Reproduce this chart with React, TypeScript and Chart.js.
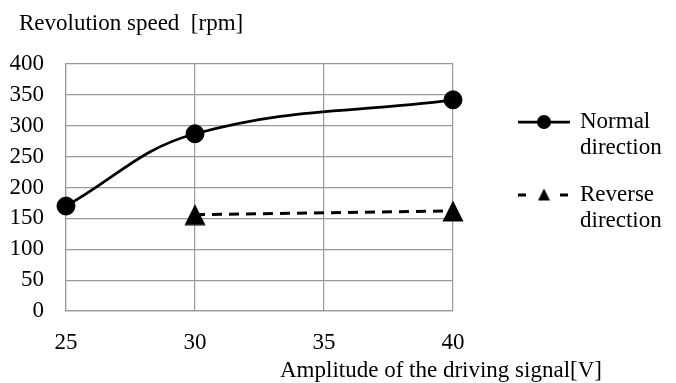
import React, { useEffect, useRef } from 'react';
import { Chart, registerables } from 'chart.js';

Chart.register(...registerables);

// ---- data ----
const xTickValues = [25, 30, 35, 40];
const normalX = [25, 30, 40];
const normalY = [170, 287, 342];
const reverseX = [30, 40];
const reverseY = [156, 162];
const yMin = 0;
const yMax = 400;
const yStep = 50;

const yTitle = 'Revolution speed  [rpm]';
const xTitle = 'Amplitude of the driving signal[V]';
const legendNormal = ['Normal', 'direction'];
const legendReverse = ['Reverse', 'direction'];

const FONT = '"Liberation Serif", "Times New Roman", serif';
const FS = 23;

function makeTriangle(size: number): HTMLCanvasElement {
  const c = document.createElement('canvas');
  c.width = size;
  c.height = size;
  const ctx = c.getContext('2d')!;
  ctx.fillStyle = '#000';
  ctx.beginPath();
  ctx.moveTo(size / 2, 0.5);
  ctx.lineTo(size - 0.5, size - 0.5);
  ctx.lineTo(0.5, size - 0.5);
  ctx.closePath();
  ctx.fill();
  return c;
}

export default function App() {
  const ref = useRef<HTMLCanvasElement | null>(null);

  useEffect(() => {
    document.body.style.margin = '0';
    const canvas = ref.current!;
    const tri = makeTriangle(22);
    const triSmall = makeTriangle(13);

    const textPlugin = {
      id: 'texts',
      afterDraw(chart: any) {
        const ctx = chart.ctx as CanvasRenderingContext2D;
        const area = chart.chartArea;
        ctx.save();
        ctx.fillStyle = '#000';
        ctx.font = `${FS}px ${FONT}`;
        ctx.textBaseline = 'alphabetic';
        ctx.textAlign = 'left';
        ctx.fillText(yTitle, 19, 30);
        ctx.fillText(xTitle, 280, 377);

        // legend
        const lx0 = area.right + 65;
        const lx1 = area.right + 117;
        const lmid = (lx0 + lx1) / 2;
        const tx = area.right + 127;
        // normal
        const y1 = 122;
        ctx.strokeStyle = '#000';
        ctx.lineWidth = 2.75;
        ctx.setLineDash([]);
        ctx.beginPath();
        ctx.moveTo(lx0, y1);
        ctx.lineTo(lx1, y1);
        ctx.stroke();
        ctx.beginPath();
        ctx.arc(lmid, y1, 7, 0, Math.PI * 2);
        ctx.fill();
        ctx.textBaseline = 'middle';
        ctx.fillText(legendNormal[0], tx, y1);
        ctx.fillText(legendNormal[1], tx, y1 + 26);
        // reverse
        const y2 = 195;
        ctx.lineWidth = 3;
        ctx.setLineDash([8, 34, 8]);
        ctx.beginPath();
        ctx.moveTo(lx0, y2);
        ctx.lineTo(lx1, y2);
        ctx.stroke();
        ctx.setLineDash([]);
        ctx.drawImage(triSmall, lmid - 6.5, y2 - 7);
        ctx.fillText(legendReverse[0], tx, y2);
        ctx.fillText(legendReverse[1], tx, y2 + 26);
        ctx.restore();
      },
    };

    const chart = new Chart(canvas, {
      type: 'line',
      data: {
        datasets: [
          {
            label: 'Normal direction',
            data: normalX.map((x, i) => ({ x, y: normalY[i] })),
            borderColor: '#000',
            backgroundColor: '#000',
            borderWidth: 2.75,
            tension: 0.4,
            clip: false,
            pointStyle: 'circle',
            pointRadius: 9,
            pointBorderWidth: 1,
            pointBackgroundColor: '#000',
            pointBorderColor: '#000',
          },
          {
            label: 'Reverse direction',
            data: reverseX.map((x, i) => ({ x, y: reverseY[i] })),
            borderColor: '#000',
            backgroundColor: '#000',
            borderWidth: 3,
            borderDash: [10, 7],
            tension: 0,
            clip: false,
            pointStyle: tri as any,
            pointRadius: 11,
          },
        ],
      },
      options: {
        animation: false,
        responsive: false,
        maintainAspectRatio: false,
        layout: { padding: { top: 64, right: 223, left: 0, bottom: 0 } },
        plugins: {
          legend: { display: false },
          tooltip: { enabled: false },
          title: { display: false },
        },
        scales: {
          x: {
            type: 'linear',
            min: xTickValues[0],
            max: xTickValues[xTickValues.length - 1],
            afterBuildTicks: (scale: any) => {
              scale.ticks = xTickValues.map((v) => ({ value: v }));
            },
            afterFit: (scale: any) => {
              scale.height = 72;
            },
            grid: { color: '#999', lineWidth: 1.2, drawTicks: false },
            border: { color: '#999', width: 1.2 },
            ticks: {
              color: '#000',
              font: { family: FONT, size: FS },
              padding: 18,
              maxRotation: 0,
              autoSkip: false,
            },
          },
          y: {
            type: 'linear',
            min: yMin,
            max: yMax,
            afterFit: (scale: any) => {
              scale.width = 66;
            },
            grid: { color: '#999', lineWidth: 1.2, drawTicks: false },
            border: { color: '#999', width: 1.2 },
            ticks: {
              stepSize: yStep,
              color: '#000',
              font: { family: FONT, size: FS },
              padding: 22,
            },
          },
        },
      },
      plugins: [textPlugin],
    });

    return () => chart.destroy();
  }, []);

  return (
    <div style={{ width: 676, height: 383 }}>
      <canvas ref={ref} width={676} height={383} style={{ display: 'block' }} />
    </div>
  );
}
